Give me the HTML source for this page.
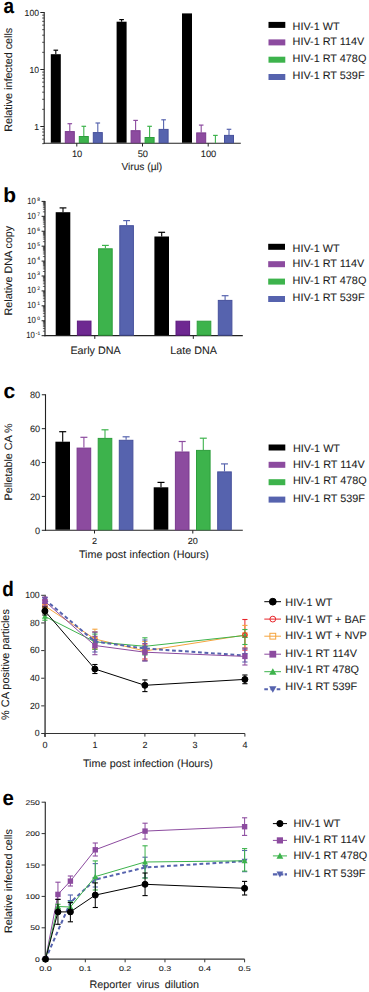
<!DOCTYPE html>
<html><head><meta charset="utf-8"><style>
html,body{margin:0;padding:0;background:#fff;}
body{width:369px;height:992px;overflow:hidden;}
svg{display:block;font-family:"Liberation Sans",sans-serif;text-rendering:geometricPrecision;}
text{stroke:#222;stroke-width:0.08px;paint-order:stroke;}
</style></head><body>
<svg width="369" height="992" viewBox="0 0 369 992">
<rect width="369" height="992" fill="#fff"/>
<text x="3.60" y="12.90" font-size="21" text-anchor="start" font-weight="bold" fill="#000" textLength="10.51" lengthAdjust="spacingAndGlyphs" >a</text>
<line x1="44.20" y1="12.00" x2="44.20" y2="143.80" stroke="#222" stroke-width="1.1" />
<line x1="43.70" y1="143.30" x2="240.80" y2="143.30" stroke="#222" stroke-width="1.1" />
<line x1="40.30" y1="126.50" x2="44.20" y2="126.50" stroke="#222" stroke-width="1" />
<text x="39.00" y="129.82" font-size="8.8" text-anchor="end" font-weight="normal" fill="#1c1c1c" textLength="4.80" lengthAdjust="spacingAndGlyphs" >1</text>
<line x1="40.30" y1="69.50" x2="44.20" y2="69.50" stroke="#222" stroke-width="1" />
<text x="39.00" y="72.82" font-size="8.8" text-anchor="end" font-weight="normal" fill="#1c1c1c" textLength="9.59" lengthAdjust="spacingAndGlyphs" >10</text>
<line x1="40.30" y1="12.50" x2="44.20" y2="12.50" stroke="#222" stroke-width="1" />
<text x="39.00" y="15.82" font-size="8.8" text-anchor="end" font-weight="normal" fill="#1c1c1c" textLength="14.39" lengthAdjust="spacingAndGlyphs" >100</text>
<line x1="42.20" y1="143.66" x2="44.20" y2="143.66" stroke="#222" stroke-width="0.8" />
<line x1="42.20" y1="139.15" x2="44.20" y2="139.15" stroke="#222" stroke-width="0.8" />
<line x1="42.20" y1="135.33" x2="44.20" y2="135.33" stroke="#222" stroke-width="0.8" />
<line x1="42.20" y1="132.02" x2="44.20" y2="132.02" stroke="#222" stroke-width="0.8" />
<line x1="42.20" y1="129.11" x2="44.20" y2="129.11" stroke="#222" stroke-width="0.8" />
<line x1="42.20" y1="109.34" x2="44.20" y2="109.34" stroke="#222" stroke-width="0.8" />
<line x1="42.20" y1="99.30" x2="44.20" y2="99.30" stroke="#222" stroke-width="0.8" />
<line x1="42.20" y1="92.18" x2="44.20" y2="92.18" stroke="#222" stroke-width="0.8" />
<line x1="42.20" y1="86.66" x2="44.20" y2="86.66" stroke="#222" stroke-width="0.8" />
<line x1="42.20" y1="82.15" x2="44.20" y2="82.15" stroke="#222" stroke-width="0.8" />
<line x1="42.20" y1="78.33" x2="44.20" y2="78.33" stroke="#222" stroke-width="0.8" />
<line x1="42.20" y1="75.02" x2="44.20" y2="75.02" stroke="#222" stroke-width="0.8" />
<line x1="42.20" y1="72.11" x2="44.20" y2="72.11" stroke="#222" stroke-width="0.8" />
<line x1="42.20" y1="52.34" x2="44.20" y2="52.34" stroke="#222" stroke-width="0.8" />
<line x1="42.20" y1="42.30" x2="44.20" y2="42.30" stroke="#222" stroke-width="0.8" />
<line x1="42.20" y1="35.18" x2="44.20" y2="35.18" stroke="#222" stroke-width="0.8" />
<line x1="42.20" y1="29.66" x2="44.20" y2="29.66" stroke="#222" stroke-width="0.8" />
<line x1="42.20" y1="25.15" x2="44.20" y2="25.15" stroke="#222" stroke-width="0.8" />
<line x1="42.20" y1="21.33" x2="44.20" y2="21.33" stroke="#222" stroke-width="0.8" />
<line x1="42.20" y1="18.02" x2="44.20" y2="18.02" stroke="#222" stroke-width="0.8" />
<line x1="42.20" y1="15.11" x2="44.20" y2="15.11" stroke="#222" stroke-width="0.8" />
<line x1="76.80" y1="143.30" x2="76.80" y2="146.50" stroke="#222" stroke-width="1" />
<text x="77.10" y="156.70" font-size="9.3" text-anchor="middle" font-weight="normal" fill="#1c1c1c" >10</text>
<line x1="142.50" y1="143.30" x2="142.50" y2="146.50" stroke="#222" stroke-width="1" />
<text x="142.80" y="156.70" font-size="9.3" text-anchor="middle" font-weight="normal" fill="#1c1c1c" >50</text>
<line x1="208.20" y1="143.30" x2="208.20" y2="146.50" stroke="#222" stroke-width="1" />
<text x="208.50" y="156.70" font-size="9.3" text-anchor="middle" font-weight="normal" fill="#1c1c1c" >100</text>
<text x="141.80" y="169.80" font-size="10.2" text-anchor="middle" font-weight="normal" fill="#1c1c1c" >Virus (µl)</text>
<text transform="translate(12.10,79.80) rotate(-90)" font-size="10.75" text-anchor="middle" fill="#1c1c1c">Relative infected cells</text>
<line x1="55.80" y1="54.20" x2="55.80" y2="50.20" stroke="#000" stroke-width="1.1" />
<line x1="53.50" y1="50.20" x2="58.10" y2="50.20" stroke="#000" stroke-width="1.2" />
<rect x="50.80" y="54.20" width="10.00" height="88.55" fill="#000"/>
<line x1="69.80" y1="131.10" x2="69.80" y2="123.70" stroke="#8c4b9f" stroke-width="1.1" />
<line x1="67.50" y1="123.70" x2="72.10" y2="123.70" stroke="#8c4b9f" stroke-width="1.2" />
<rect x="65.30" y="131.60" width="9.00" height="11.15" fill="#8c4b9f" stroke="#7a3a8e" stroke-width="1"/>
<line x1="83.80" y1="136.00" x2="83.80" y2="126.30" stroke="#3db34c" stroke-width="1.1" />
<line x1="81.50" y1="126.30" x2="86.10" y2="126.30" stroke="#3db34c" stroke-width="1.2" />
<rect x="79.30" y="136.50" width="9.00" height="6.25" fill="#3db34c" stroke="#2e9e3c" stroke-width="1"/>
<line x1="97.80" y1="132.10" x2="97.80" y2="123.00" stroke="#5663ae" stroke-width="1.1" />
<line x1="95.50" y1="123.00" x2="100.10" y2="123.00" stroke="#5663ae" stroke-width="1.2" />
<rect x="93.30" y="132.60" width="9.00" height="10.15" fill="#5663ae" stroke="#46509c" stroke-width="1"/>
<line x1="121.60" y1="21.70" x2="121.60" y2="19.60" stroke="#000" stroke-width="1.1" />
<line x1="119.30" y1="19.60" x2="123.90" y2="19.60" stroke="#000" stroke-width="1.2" />
<rect x="116.60" y="21.70" width="10.00" height="121.05" fill="#000"/>
<line x1="135.60" y1="130.20" x2="135.60" y2="120.40" stroke="#8c4b9f" stroke-width="1.1" />
<line x1="133.30" y1="120.40" x2="137.90" y2="120.40" stroke="#8c4b9f" stroke-width="1.2" />
<rect x="131.10" y="130.70" width="9.00" height="12.05" fill="#8c4b9f" stroke="#7a3a8e" stroke-width="1"/>
<line x1="149.60" y1="137.00" x2="149.60" y2="126.30" stroke="#3db34c" stroke-width="1.1" />
<line x1="147.30" y1="126.30" x2="151.90" y2="126.30" stroke="#3db34c" stroke-width="1.2" />
<rect x="145.10" y="137.50" width="9.00" height="5.25" fill="#3db34c" stroke="#2e9e3c" stroke-width="1"/>
<line x1="163.60" y1="128.90" x2="163.60" y2="119.80" stroke="#5663ae" stroke-width="1.1" />
<line x1="161.30" y1="119.80" x2="165.90" y2="119.80" stroke="#5663ae" stroke-width="1.2" />
<rect x="159.10" y="129.40" width="9.00" height="13.35" fill="#5663ae" stroke="#46509c" stroke-width="1"/>
<rect x="182.00" y="13.40" width="10.00" height="129.35" fill="#000"/>
<line x1="201.20" y1="132.40" x2="201.20" y2="125.10" stroke="#8c4b9f" stroke-width="1.1" />
<line x1="198.90" y1="125.10" x2="203.50" y2="125.10" stroke="#8c4b9f" stroke-width="1.2" />
<rect x="196.70" y="132.90" width="9.00" height="9.85" fill="#8c4b9f" stroke="#7a3a8e" stroke-width="1"/>
<line x1="215.40" y1="143.00" x2="215.40" y2="135.40" stroke="#3db34c" stroke-width="1.1" />
<line x1="213.10" y1="135.40" x2="217.70" y2="135.40" stroke="#3db34c" stroke-width="1.2" />
<rect x="210.90" y="143.50" width="9.00" height="-0.75" fill="#3db34c" stroke="#2e9e3c" stroke-width="1"/>
<line x1="229.00" y1="134.90" x2="229.00" y2="129.30" stroke="#5663ae" stroke-width="1.1" />
<line x1="226.70" y1="129.30" x2="231.30" y2="129.30" stroke="#5663ae" stroke-width="1.2" />
<rect x="224.50" y="135.40" width="9.00" height="7.35" fill="#5663ae" stroke="#46509c" stroke-width="1"/>
<rect x="268.50" y="21.90" width="16.80" height="6.00" fill="#000"/>
<text x="292.60" y="29.80" font-size="10.85" text-anchor="start" font-weight="normal" fill="#1c1c1c" >HIV-1 WT</text>
<rect x="268.50" y="39.40" width="16.80" height="6.00" fill="#8c4b9f"/>
<text x="292.60" y="45.45" font-size="10.85" text-anchor="start" font-weight="normal" fill="#1c1c1c" >HIV-1 RT 114V</text>
<rect x="268.50" y="56.70" width="16.80" height="6.00" fill="#3db34c"/>
<text x="292.60" y="61.70" font-size="10.85" text-anchor="start" font-weight="normal" fill="#1c1c1c" >HIV-1 RT 478Q</text>
<rect x="268.50" y="74.00" width="16.80" height="6.00" fill="#5663ae"/>
<text x="292.60" y="79.30" font-size="10.85" text-anchor="start" font-weight="normal" fill="#1c1c1c" >HIV-1 RT 539F</text>
<text x="3.30" y="202.00" font-size="20.3" text-anchor="start" font-weight="bold" fill="#000" textLength="12.77" lengthAdjust="spacingAndGlyphs" >b</text>
<line x1="45.00" y1="200.90" x2="45.00" y2="336.18" stroke="#222" stroke-width="1.2" />
<line x1="44.50" y1="335.68" x2="242.80" y2="335.68" stroke="#222" stroke-width="1.2" />
<line x1="41.60" y1="335.68" x2="45.00" y2="335.68" stroke="#222" stroke-width="1" />
<text x="34.80" y="338.18" font-size="9.0" text-anchor="end" font-weight="normal" fill="#1c1c1c" textLength="8.61" lengthAdjust="spacingAndGlyphs" >10</text>
<text x="35.80" y="335.08" font-size="4.9" text-anchor="start" font-weight="normal" fill="#1c1c1c" >-1</text>
<line x1="42.90" y1="331.19" x2="45.00" y2="331.19" stroke="#222" stroke-width="0.7" />
<line x1="42.90" y1="328.56" x2="45.00" y2="328.56" stroke="#222" stroke-width="0.7" />
<line x1="42.90" y1="326.70" x2="45.00" y2="326.70" stroke="#222" stroke-width="0.7" />
<line x1="42.90" y1="325.25" x2="45.00" y2="325.25" stroke="#222" stroke-width="0.7" />
<line x1="42.90" y1="324.07" x2="45.00" y2="324.07" stroke="#222" stroke-width="0.7" />
<line x1="42.90" y1="323.07" x2="45.00" y2="323.07" stroke="#222" stroke-width="0.7" />
<line x1="42.90" y1="322.21" x2="45.00" y2="322.21" stroke="#222" stroke-width="0.7" />
<line x1="42.90" y1="321.44" x2="45.00" y2="321.44" stroke="#222" stroke-width="0.7" />
<line x1="41.60" y1="320.76" x2="45.00" y2="320.76" stroke="#222" stroke-width="1" />
<text x="35.80" y="323.26" font-size="9.0" text-anchor="end" font-weight="normal" fill="#1c1c1c" textLength="8.61" lengthAdjust="spacingAndGlyphs" >10</text>
<text x="37.30" y="320.16" font-size="4.9" text-anchor="start" font-weight="normal" fill="#1c1c1c" >0</text>
<line x1="42.90" y1="316.27" x2="45.00" y2="316.27" stroke="#222" stroke-width="0.7" />
<line x1="42.90" y1="313.64" x2="45.00" y2="313.64" stroke="#222" stroke-width="0.7" />
<line x1="42.90" y1="311.78" x2="45.00" y2="311.78" stroke="#222" stroke-width="0.7" />
<line x1="42.90" y1="310.33" x2="45.00" y2="310.33" stroke="#222" stroke-width="0.7" />
<line x1="42.90" y1="309.15" x2="45.00" y2="309.15" stroke="#222" stroke-width="0.7" />
<line x1="42.90" y1="308.15" x2="45.00" y2="308.15" stroke="#222" stroke-width="0.7" />
<line x1="42.90" y1="307.29" x2="45.00" y2="307.29" stroke="#222" stroke-width="0.7" />
<line x1="42.90" y1="306.52" x2="45.00" y2="306.52" stroke="#222" stroke-width="0.7" />
<line x1="41.60" y1="305.84" x2="45.00" y2="305.84" stroke="#222" stroke-width="1" />
<text x="35.80" y="308.34" font-size="9.0" text-anchor="end" font-weight="normal" fill="#1c1c1c" textLength="8.61" lengthAdjust="spacingAndGlyphs" >10</text>
<text x="37.30" y="305.24" font-size="4.9" text-anchor="start" font-weight="normal" fill="#1c1c1c" >1</text>
<line x1="42.90" y1="301.35" x2="45.00" y2="301.35" stroke="#222" stroke-width="0.7" />
<line x1="42.90" y1="298.72" x2="45.00" y2="298.72" stroke="#222" stroke-width="0.7" />
<line x1="42.90" y1="296.86" x2="45.00" y2="296.86" stroke="#222" stroke-width="0.7" />
<line x1="42.90" y1="295.41" x2="45.00" y2="295.41" stroke="#222" stroke-width="0.7" />
<line x1="42.90" y1="294.23" x2="45.00" y2="294.23" stroke="#222" stroke-width="0.7" />
<line x1="42.90" y1="293.23" x2="45.00" y2="293.23" stroke="#222" stroke-width="0.7" />
<line x1="42.90" y1="292.37" x2="45.00" y2="292.37" stroke="#222" stroke-width="0.7" />
<line x1="42.90" y1="291.60" x2="45.00" y2="291.60" stroke="#222" stroke-width="0.7" />
<line x1="41.60" y1="290.92" x2="45.00" y2="290.92" stroke="#222" stroke-width="1" />
<text x="35.80" y="293.42" font-size="9.0" text-anchor="end" font-weight="normal" fill="#1c1c1c" textLength="8.61" lengthAdjust="spacingAndGlyphs" >10</text>
<text x="37.30" y="290.32" font-size="4.9" text-anchor="start" font-weight="normal" fill="#1c1c1c" >2</text>
<line x1="42.90" y1="286.43" x2="45.00" y2="286.43" stroke="#222" stroke-width="0.7" />
<line x1="42.90" y1="283.80" x2="45.00" y2="283.80" stroke="#222" stroke-width="0.7" />
<line x1="42.90" y1="281.94" x2="45.00" y2="281.94" stroke="#222" stroke-width="0.7" />
<line x1="42.90" y1="280.49" x2="45.00" y2="280.49" stroke="#222" stroke-width="0.7" />
<line x1="42.90" y1="279.31" x2="45.00" y2="279.31" stroke="#222" stroke-width="0.7" />
<line x1="42.90" y1="278.31" x2="45.00" y2="278.31" stroke="#222" stroke-width="0.7" />
<line x1="42.90" y1="277.45" x2="45.00" y2="277.45" stroke="#222" stroke-width="0.7" />
<line x1="42.90" y1="276.68" x2="45.00" y2="276.68" stroke="#222" stroke-width="0.7" />
<line x1="41.60" y1="276.00" x2="45.00" y2="276.00" stroke="#222" stroke-width="1" />
<text x="35.80" y="278.50" font-size="9.0" text-anchor="end" font-weight="normal" fill="#1c1c1c" textLength="8.61" lengthAdjust="spacingAndGlyphs" >10</text>
<text x="37.30" y="275.40" font-size="4.9" text-anchor="start" font-weight="normal" fill="#1c1c1c" >3</text>
<line x1="42.90" y1="271.51" x2="45.00" y2="271.51" stroke="#222" stroke-width="0.7" />
<line x1="42.90" y1="268.88" x2="45.00" y2="268.88" stroke="#222" stroke-width="0.7" />
<line x1="42.90" y1="267.02" x2="45.00" y2="267.02" stroke="#222" stroke-width="0.7" />
<line x1="42.90" y1="265.57" x2="45.00" y2="265.57" stroke="#222" stroke-width="0.7" />
<line x1="42.90" y1="264.39" x2="45.00" y2="264.39" stroke="#222" stroke-width="0.7" />
<line x1="42.90" y1="263.39" x2="45.00" y2="263.39" stroke="#222" stroke-width="0.7" />
<line x1="42.90" y1="262.53" x2="45.00" y2="262.53" stroke="#222" stroke-width="0.7" />
<line x1="42.90" y1="261.76" x2="45.00" y2="261.76" stroke="#222" stroke-width="0.7" />
<line x1="41.60" y1="261.08" x2="45.00" y2="261.08" stroke="#222" stroke-width="1" />
<text x="35.80" y="263.58" font-size="9.0" text-anchor="end" font-weight="normal" fill="#1c1c1c" textLength="8.61" lengthAdjust="spacingAndGlyphs" >10</text>
<text x="37.30" y="260.48" font-size="4.9" text-anchor="start" font-weight="normal" fill="#1c1c1c" >4</text>
<line x1="42.90" y1="256.59" x2="45.00" y2="256.59" stroke="#222" stroke-width="0.7" />
<line x1="42.90" y1="253.96" x2="45.00" y2="253.96" stroke="#222" stroke-width="0.7" />
<line x1="42.90" y1="252.10" x2="45.00" y2="252.10" stroke="#222" stroke-width="0.7" />
<line x1="42.90" y1="250.65" x2="45.00" y2="250.65" stroke="#222" stroke-width="0.7" />
<line x1="42.90" y1="249.47" x2="45.00" y2="249.47" stroke="#222" stroke-width="0.7" />
<line x1="42.90" y1="248.47" x2="45.00" y2="248.47" stroke="#222" stroke-width="0.7" />
<line x1="42.90" y1="247.61" x2="45.00" y2="247.61" stroke="#222" stroke-width="0.7" />
<line x1="42.90" y1="246.84" x2="45.00" y2="246.84" stroke="#222" stroke-width="0.7" />
<line x1="41.60" y1="246.16" x2="45.00" y2="246.16" stroke="#222" stroke-width="1" />
<text x="35.80" y="248.66" font-size="9.0" text-anchor="end" font-weight="normal" fill="#1c1c1c" textLength="8.61" lengthAdjust="spacingAndGlyphs" >10</text>
<text x="37.30" y="245.56" font-size="4.9" text-anchor="start" font-weight="normal" fill="#1c1c1c" >5</text>
<line x1="42.90" y1="241.67" x2="45.00" y2="241.67" stroke="#222" stroke-width="0.7" />
<line x1="42.90" y1="239.04" x2="45.00" y2="239.04" stroke="#222" stroke-width="0.7" />
<line x1="42.90" y1="237.18" x2="45.00" y2="237.18" stroke="#222" stroke-width="0.7" />
<line x1="42.90" y1="235.73" x2="45.00" y2="235.73" stroke="#222" stroke-width="0.7" />
<line x1="42.90" y1="234.55" x2="45.00" y2="234.55" stroke="#222" stroke-width="0.7" />
<line x1="42.90" y1="233.55" x2="45.00" y2="233.55" stroke="#222" stroke-width="0.7" />
<line x1="42.90" y1="232.69" x2="45.00" y2="232.69" stroke="#222" stroke-width="0.7" />
<line x1="42.90" y1="231.92" x2="45.00" y2="231.92" stroke="#222" stroke-width="0.7" />
<line x1="41.60" y1="231.24" x2="45.00" y2="231.24" stroke="#222" stroke-width="1" />
<text x="35.80" y="233.74" font-size="9.0" text-anchor="end" font-weight="normal" fill="#1c1c1c" textLength="8.61" lengthAdjust="spacingAndGlyphs" >10</text>
<text x="37.30" y="230.64" font-size="4.9" text-anchor="start" font-weight="normal" fill="#1c1c1c" >6</text>
<line x1="42.90" y1="226.75" x2="45.00" y2="226.75" stroke="#222" stroke-width="0.7" />
<line x1="42.90" y1="224.12" x2="45.00" y2="224.12" stroke="#222" stroke-width="0.7" />
<line x1="42.90" y1="222.26" x2="45.00" y2="222.26" stroke="#222" stroke-width="0.7" />
<line x1="42.90" y1="220.81" x2="45.00" y2="220.81" stroke="#222" stroke-width="0.7" />
<line x1="42.90" y1="219.63" x2="45.00" y2="219.63" stroke="#222" stroke-width="0.7" />
<line x1="42.90" y1="218.63" x2="45.00" y2="218.63" stroke="#222" stroke-width="0.7" />
<line x1="42.90" y1="217.77" x2="45.00" y2="217.77" stroke="#222" stroke-width="0.7" />
<line x1="42.90" y1="217.00" x2="45.00" y2="217.00" stroke="#222" stroke-width="0.7" />
<line x1="41.60" y1="216.32" x2="45.00" y2="216.32" stroke="#222" stroke-width="1" />
<text x="35.80" y="218.82" font-size="9.0" text-anchor="end" font-weight="normal" fill="#1c1c1c" textLength="8.61" lengthAdjust="spacingAndGlyphs" >10</text>
<text x="37.30" y="215.72" font-size="4.9" text-anchor="start" font-weight="normal" fill="#1c1c1c" >7</text>
<line x1="42.90" y1="211.83" x2="45.00" y2="211.83" stroke="#222" stroke-width="0.7" />
<line x1="42.90" y1="209.20" x2="45.00" y2="209.20" stroke="#222" stroke-width="0.7" />
<line x1="42.90" y1="207.34" x2="45.00" y2="207.34" stroke="#222" stroke-width="0.7" />
<line x1="42.90" y1="205.89" x2="45.00" y2="205.89" stroke="#222" stroke-width="0.7" />
<line x1="42.90" y1="204.71" x2="45.00" y2="204.71" stroke="#222" stroke-width="0.7" />
<line x1="42.90" y1="203.71" x2="45.00" y2="203.71" stroke="#222" stroke-width="0.7" />
<line x1="42.90" y1="202.85" x2="45.00" y2="202.85" stroke="#222" stroke-width="0.7" />
<line x1="42.90" y1="202.08" x2="45.00" y2="202.08" stroke="#222" stroke-width="0.7" />
<line x1="41.60" y1="201.40" x2="45.00" y2="201.40" stroke="#222" stroke-width="1" />
<text x="35.80" y="203.90" font-size="9.0" text-anchor="end" font-weight="normal" fill="#1c1c1c" textLength="8.61" lengthAdjust="spacingAndGlyphs" >10</text>
<text x="37.30" y="200.80" font-size="4.9" text-anchor="start" font-weight="normal" fill="#1c1c1c" >8</text>
<line x1="94.80" y1="335.68" x2="94.80" y2="338.88" stroke="#222" stroke-width="1" />
<line x1="193.30" y1="335.68" x2="193.30" y2="338.88" stroke="#222" stroke-width="1" />
<text x="95.50" y="354.00" font-size="10.75" text-anchor="middle" font-weight="normal" fill="#1c1c1c" >Early DNA</text>
<text x="193.60" y="354.00" font-size="10.75" text-anchor="middle" font-weight="normal" fill="#1c1c1c" >Late DNA</text>
<text transform="translate(11.90,270.60) rotate(-90)" font-size="10.75" text-anchor="middle" fill="#1c1c1c">Relative DNA copy</text>
<line x1="63.00" y1="212.20" x2="63.00" y2="207.90" stroke="#000" stroke-width="1.1" />
<line x1="59.60" y1="207.90" x2="66.40" y2="207.90" stroke="#000" stroke-width="1.2" />
<rect x="55.70" y="212.20" width="14.60" height="122.93" fill="#000"/>
<rect x="77.40" y="321.10" width="13.60" height="14.03" fill="#6e2891" stroke="#5e1a80" stroke-width="1"/>
<line x1="105.40" y1="248.30" x2="105.40" y2="245.40" stroke="#3db34c" stroke-width="1.1" />
<line x1="102.00" y1="245.40" x2="108.80" y2="245.40" stroke="#3db34c" stroke-width="1.2" />
<rect x="98.60" y="248.80" width="13.60" height="86.33" fill="#3db34c" stroke="#2e9e3c" stroke-width="1"/>
<line x1="126.60" y1="225.20" x2="126.60" y2="220.60" stroke="#5663ae" stroke-width="1.1" />
<line x1="123.20" y1="220.60" x2="130.00" y2="220.60" stroke="#5663ae" stroke-width="1.2" />
<rect x="119.80" y="225.70" width="13.60" height="109.43" fill="#5663ae" stroke="#46509c" stroke-width="1"/>
<line x1="161.70" y1="236.50" x2="161.70" y2="232.30" stroke="#000" stroke-width="1.1" />
<line x1="158.30" y1="232.30" x2="165.10" y2="232.30" stroke="#000" stroke-width="1.2" />
<rect x="154.40" y="236.50" width="14.60" height="98.63" fill="#000"/>
<rect x="176.00" y="321.20" width="13.60" height="13.93" fill="#6e2891" stroke="#5e1a80" stroke-width="1"/>
<rect x="197.20" y="321.20" width="13.60" height="13.93" fill="#3db34c" stroke="#2e9e3c" stroke-width="1"/>
<line x1="225.10" y1="299.90" x2="225.10" y2="295.70" stroke="#5663ae" stroke-width="1.1" />
<line x1="221.70" y1="295.70" x2="228.50" y2="295.70" stroke="#5663ae" stroke-width="1.2" />
<rect x="218.30" y="300.40" width="13.60" height="34.73" fill="#5663ae" stroke="#46509c" stroke-width="1"/>
<rect x="268.20" y="243.80" width="16.80" height="6.00" fill="#000"/>
<text x="292.60" y="251.70" font-size="10.85" text-anchor="start" font-weight="normal" fill="#1c1c1c" >HIV-1 WT</text>
<rect x="268.20" y="261.20" width="16.80" height="6.00" fill="#8c4b9f"/>
<text x="292.60" y="267.25" font-size="10.85" text-anchor="start" font-weight="normal" fill="#1c1c1c" >HIV-1 RT 114V</text>
<rect x="268.20" y="278.60" width="16.80" height="6.00" fill="#3db34c"/>
<text x="292.60" y="283.60" font-size="10.85" text-anchor="start" font-weight="normal" fill="#1c1c1c" >HIV-1 RT 478Q</text>
<rect x="268.20" y="296.00" width="16.80" height="6.00" fill="#5663ae"/>
<text x="292.60" y="301.30" font-size="10.85" text-anchor="start" font-weight="normal" fill="#1c1c1c" >HIV-1 RT 539F</text>
<text x="3.50" y="398.40" font-size="21" text-anchor="start" font-weight="bold" fill="#000" >c</text>
<line x1="45.50" y1="394.28" x2="45.50" y2="530.80" stroke="#222" stroke-width="1.1" />
<line x1="45.00" y1="530.30" x2="242.80" y2="530.30" stroke="#222" stroke-width="1.1" />
<line x1="41.80" y1="530.30" x2="45.50" y2="530.30" stroke="#222" stroke-width="1" />
<text x="40.20" y="533.66" font-size="9.2" text-anchor="end" font-weight="normal" fill="#1c1c1c" >0</text>
<line x1="41.80" y1="496.42" x2="45.50" y2="496.42" stroke="#222" stroke-width="1" />
<text x="40.20" y="499.78" font-size="9.2" text-anchor="end" font-weight="normal" fill="#1c1c1c" >20</text>
<line x1="41.80" y1="462.54" x2="45.50" y2="462.54" stroke="#222" stroke-width="1" />
<text x="40.20" y="465.90" font-size="9.2" text-anchor="end" font-weight="normal" fill="#1c1c1c" >40</text>
<line x1="41.80" y1="428.66" x2="45.50" y2="428.66" stroke="#222" stroke-width="1" />
<text x="40.20" y="432.02" font-size="9.2" text-anchor="end" font-weight="normal" fill="#1c1c1c" >60</text>
<line x1="41.80" y1="394.78" x2="45.50" y2="394.78" stroke="#222" stroke-width="1" />
<text x="40.20" y="398.14" font-size="9.2" text-anchor="end" font-weight="normal" fill="#1c1c1c" >80</text>
<line x1="94.50" y1="530.30" x2="94.50" y2="533.50" stroke="#222" stroke-width="1" />
<text x="94.50" y="543.60" font-size="8.9" text-anchor="middle" font-weight="normal" fill="#1c1c1c" textLength="5.05" lengthAdjust="spacingAndGlyphs" >2</text>
<line x1="192.80" y1="530.30" x2="192.80" y2="533.50" stroke="#222" stroke-width="1" />
<text x="192.80" y="543.60" font-size="8.9" text-anchor="middle" font-weight="normal" fill="#1c1c1c" textLength="10.10" lengthAdjust="spacingAndGlyphs" >20</text>
<text x="143.90" y="557.60" font-size="10.75" text-anchor="middle" font-weight="normal" fill="#1c1c1c" word-spacing="0.45">Time post infection (Hours)</text>
<text transform="translate(12.20,461.90) rotate(-90)" font-size="10.75" text-anchor="middle" fill="#1c1c1c">Pelletable CA %</text>
<line x1="62.70" y1="441.70" x2="62.70" y2="431.70" stroke="#000" stroke-width="1.1" />
<line x1="59.20" y1="431.70" x2="66.20" y2="431.70" stroke="#000" stroke-width="1.2" />
<rect x="55.40" y="441.70" width="14.60" height="88.05" fill="#000"/>
<line x1="83.90" y1="447.60" x2="83.90" y2="437.30" stroke="#8c4b9f" stroke-width="1.1" />
<line x1="80.40" y1="437.30" x2="87.40" y2="437.30" stroke="#8c4b9f" stroke-width="1.2" />
<rect x="77.10" y="448.10" width="13.60" height="81.65" fill="#8c4b9f" stroke="#7a3a8e" stroke-width="1"/>
<line x1="105.00" y1="437.90" x2="105.00" y2="429.80" stroke="#3db34c" stroke-width="1.1" />
<line x1="101.50" y1="429.80" x2="108.50" y2="429.80" stroke="#3db34c" stroke-width="1.2" />
<rect x="98.20" y="438.40" width="13.60" height="91.35" fill="#3db34c" stroke="#2e9e3c" stroke-width="1"/>
<line x1="126.10" y1="439.80" x2="126.10" y2="436.80" stroke="#5663ae" stroke-width="1.1" />
<line x1="122.60" y1="436.80" x2="129.60" y2="436.80" stroke="#5663ae" stroke-width="1.2" />
<rect x="119.30" y="440.30" width="13.60" height="89.45" fill="#5663ae" stroke="#46509c" stroke-width="1"/>
<line x1="161.00" y1="487.30" x2="161.00" y2="482.40" stroke="#000" stroke-width="1.1" />
<line x1="157.50" y1="482.40" x2="164.50" y2="482.40" stroke="#000" stroke-width="1.2" />
<rect x="153.70" y="487.30" width="14.60" height="42.45" fill="#000"/>
<line x1="182.20" y1="451.50" x2="182.20" y2="441.50" stroke="#8c4b9f" stroke-width="1.1" />
<line x1="178.70" y1="441.50" x2="185.70" y2="441.50" stroke="#8c4b9f" stroke-width="1.2" />
<rect x="175.40" y="452.00" width="13.60" height="77.75" fill="#8c4b9f" stroke="#7a3a8e" stroke-width="1"/>
<line x1="203.30" y1="449.90" x2="203.30" y2="438.20" stroke="#3db34c" stroke-width="1.1" />
<line x1="199.80" y1="438.20" x2="206.80" y2="438.20" stroke="#3db34c" stroke-width="1.2" />
<rect x="196.50" y="450.40" width="13.60" height="79.35" fill="#3db34c" stroke="#2e9e3c" stroke-width="1"/>
<line x1="224.50" y1="471.40" x2="224.50" y2="463.90" stroke="#5663ae" stroke-width="1.1" />
<line x1="221.00" y1="463.90" x2="228.00" y2="463.90" stroke="#5663ae" stroke-width="1.2" />
<rect x="217.70" y="471.90" width="13.60" height="57.85" fill="#5663ae" stroke="#46509c" stroke-width="1"/>
<rect x="268.60" y="444.50" width="16.70" height="6.00" fill="#000"/>
<text x="293.00" y="452.40" font-size="10.85" text-anchor="start" font-weight="normal" fill="#1c1c1c" >HIV-1 WT</text>
<rect x="268.60" y="461.80" width="16.70" height="6.00" fill="#8c4b9f"/>
<text x="293.00" y="467.85" font-size="10.85" text-anchor="start" font-weight="normal" fill="#1c1c1c" >HIV-1 RT 114V</text>
<rect x="268.60" y="479.20" width="16.70" height="6.00" fill="#3db34c"/>
<text x="293.00" y="484.20" font-size="10.85" text-anchor="start" font-weight="normal" fill="#1c1c1c" >HIV-1 RT 478Q</text>
<rect x="268.60" y="496.60" width="16.70" height="6.00" fill="#5663ae"/>
<text x="293.00" y="501.90" font-size="10.85" text-anchor="start" font-weight="normal" fill="#1c1c1c" >HIV-1 RT 539F</text>
<text x="2.20" y="595.60" font-size="21" text-anchor="start" font-weight="bold" fill="#000" textLength="11.54" lengthAdjust="spacingAndGlyphs" >d</text>
<line x1="45.10" y1="594.80" x2="45.10" y2="737.00" stroke="#666" stroke-width="1.8" />
<line x1="44.00" y1="733.50" x2="244.90" y2="733.50" stroke="#333" stroke-width="1.2" />
<line x1="41.20" y1="733.50" x2="44.50" y2="733.50" stroke="#333" stroke-width="1" />
<text x="39.70" y="736.29" font-size="9.0" text-anchor="end" font-weight="normal" fill="#1c1c1c" textLength="4.86" lengthAdjust="spacingAndGlyphs" >0</text>
<line x1="41.20" y1="705.86" x2="44.50" y2="705.86" stroke="#333" stroke-width="1" />
<text x="39.70" y="708.65" font-size="9.0" text-anchor="end" font-weight="normal" fill="#1c1c1c" textLength="9.71" lengthAdjust="spacingAndGlyphs" >20</text>
<line x1="41.20" y1="678.22" x2="44.50" y2="678.22" stroke="#333" stroke-width="1" />
<text x="39.70" y="681.01" font-size="9.0" text-anchor="end" font-weight="normal" fill="#1c1c1c" textLength="9.71" lengthAdjust="spacingAndGlyphs" >40</text>
<line x1="41.20" y1="650.58" x2="44.50" y2="650.58" stroke="#333" stroke-width="1" />
<text x="39.70" y="653.37" font-size="9.0" text-anchor="end" font-weight="normal" fill="#1c1c1c" textLength="9.71" lengthAdjust="spacingAndGlyphs" >60</text>
<line x1="41.20" y1="622.94" x2="44.50" y2="622.94" stroke="#333" stroke-width="1" />
<text x="39.70" y="625.73" font-size="9.0" text-anchor="end" font-weight="normal" fill="#1c1c1c" textLength="9.71" lengthAdjust="spacingAndGlyphs" >80</text>
<line x1="41.20" y1="595.30" x2="44.50" y2="595.30" stroke="#333" stroke-width="1" />
<text x="39.70" y="598.09" font-size="9.0" text-anchor="end" font-weight="normal" fill="#1c1c1c" textLength="14.57" lengthAdjust="spacingAndGlyphs" >100</text>
<line x1="44.90" y1="733.50" x2="44.90" y2="736.60" stroke="#333" stroke-width="1" />
<text x="44.90" y="748.10" font-size="9.0" text-anchor="middle" font-weight="normal" fill="#1c1c1c" >0</text>
<line x1="94.90" y1="733.50" x2="94.90" y2="736.60" stroke="#333" stroke-width="1" />
<text x="94.90" y="748.10" font-size="9.0" text-anchor="middle" font-weight="normal" fill="#1c1c1c" >1</text>
<line x1="144.90" y1="733.50" x2="144.90" y2="736.60" stroke="#333" stroke-width="1" />
<text x="144.90" y="748.10" font-size="9.0" text-anchor="middle" font-weight="normal" fill="#1c1c1c" >2</text>
<line x1="194.90" y1="733.50" x2="194.90" y2="736.60" stroke="#333" stroke-width="1" />
<text x="194.90" y="748.10" font-size="9.0" text-anchor="middle" font-weight="normal" fill="#1c1c1c" >3</text>
<line x1="244.90" y1="733.50" x2="244.90" y2="736.60" stroke="#333" stroke-width="1" />
<text x="244.90" y="748.10" font-size="9.0" text-anchor="middle" font-weight="normal" fill="#1c1c1c" >4</text>
<text x="147.90" y="767.20" font-size="10.75" text-anchor="middle" font-weight="normal" fill="#1c1c1c" word-spacing="0.45">Time post infection (Hours)</text>
<text transform="translate(9.40,664.50) rotate(-90)" font-size="10.9" text-anchor="middle" fill="#1c1c1c">% CA positive particles</text>
<line x1="44.90" y1="600.00" x2="44.90" y2="611.00" stroke="#e8262b" stroke-width="1.0" />
<line x1="42.30" y1="600.00" x2="47.50" y2="600.00" stroke="#e8262b" stroke-width="1.1" />
<line x1="42.30" y1="611.00" x2="47.50" y2="611.00" stroke="#e8262b" stroke-width="1.1" />
<line x1="94.90" y1="632.00" x2="94.90" y2="648.00" stroke="#e8262b" stroke-width="1.0" />
<line x1="92.30" y1="632.00" x2="97.50" y2="632.00" stroke="#e8262b" stroke-width="1.1" />
<line x1="92.30" y1="648.00" x2="97.50" y2="648.00" stroke="#e8262b" stroke-width="1.1" />
<line x1="144.90" y1="645.00" x2="144.90" y2="659.00" stroke="#e8262b" stroke-width="1.0" />
<line x1="142.30" y1="645.00" x2="147.50" y2="645.00" stroke="#e8262b" stroke-width="1.1" />
<line x1="142.30" y1="659.00" x2="147.50" y2="659.00" stroke="#e8262b" stroke-width="1.1" />
<line x1="244.90" y1="619.50" x2="244.90" y2="650.10" stroke="#e8262b" stroke-width="1.0" />
<line x1="242.30" y1="619.50" x2="247.50" y2="619.50" stroke="#e8262b" stroke-width="1.1" />
<line x1="242.30" y1="650.10" x2="247.50" y2="650.10" stroke="#e8262b" stroke-width="1.1" />
<circle cx="44.90" cy="606.00" r="2.20" fill="none" stroke="#e8262b" stroke-width="1.0"/>
<circle cx="94.90" cy="639.00" r="2.20" fill="none" stroke="#e8262b" stroke-width="1.0"/>
<circle cx="144.90" cy="651.00" r="2.20" fill="none" stroke="#e8262b" stroke-width="1.0"/>
<circle cx="244.90" cy="635.00" r="2.20" fill="none" stroke="#e8262b" stroke-width="1.0"/>
<polyline points="44.90,606.00 94.90,639.00 144.90,651.00 244.90,635.00" fill="none" stroke="#f5a43e" stroke-width="1.0" stroke-linejoin="round"/>
<line x1="44.90" y1="600.00" x2="44.90" y2="612.00" stroke="#f5a43e" stroke-width="1.0" />
<line x1="42.30" y1="600.00" x2="47.50" y2="600.00" stroke="#f5a43e" stroke-width="1.1" />
<line x1="42.30" y1="612.00" x2="47.50" y2="612.00" stroke="#f5a43e" stroke-width="1.1" />
<line x1="94.90" y1="629.20" x2="94.90" y2="649.30" stroke="#f5a43e" stroke-width="1.0" />
<line x1="92.30" y1="629.20" x2="97.50" y2="629.20" stroke="#f5a43e" stroke-width="1.1" />
<line x1="92.30" y1="649.30" x2="97.50" y2="649.30" stroke="#f5a43e" stroke-width="1.1" />
<line x1="144.90" y1="641.50" x2="144.90" y2="660.50" stroke="#f5a43e" stroke-width="1.0" />
<line x1="142.30" y1="641.50" x2="147.50" y2="641.50" stroke="#f5a43e" stroke-width="1.1" />
<line x1="142.30" y1="660.50" x2="147.50" y2="660.50" stroke="#f5a43e" stroke-width="1.1" />
<line x1="244.90" y1="625.40" x2="244.90" y2="648.00" stroke="#f5a43e" stroke-width="1.0" />
<line x1="242.30" y1="625.40" x2="247.50" y2="625.40" stroke="#f5a43e" stroke-width="1.1" />
<line x1="242.30" y1="648.00" x2="247.50" y2="648.00" stroke="#f5a43e" stroke-width="1.1" />
<rect x="42.70" y="603.80" width="4.40" height="4.40" fill="none" stroke="#f5a43e" stroke-width="1"/>
<rect x="92.70" y="636.80" width="4.40" height="4.40" fill="none" stroke="#f5a43e" stroke-width="1"/>
<rect x="142.70" y="648.80" width="4.40" height="4.40" fill="none" stroke="#f5a43e" stroke-width="1"/>
<rect x="242.70" y="632.80" width="4.40" height="4.40" fill="none" stroke="#f5a43e" stroke-width="1"/>
<polyline points="44.90,616.40 94.90,641.80 144.90,646.30 244.90,635.50" fill="none" stroke="#3db34c" stroke-width="1.0" stroke-linejoin="round"/>
<line x1="44.90" y1="612.50" x2="44.90" y2="620.20" stroke="#3db34c" stroke-width="1.0" />
<line x1="42.30" y1="612.50" x2="47.50" y2="612.50" stroke="#3db34c" stroke-width="1.1" />
<line x1="42.30" y1="620.20" x2="47.50" y2="620.20" stroke="#3db34c" stroke-width="1.1" />
<line x1="94.90" y1="634.10" x2="94.90" y2="649.30" stroke="#3db34c" stroke-width="1.0" />
<line x1="92.30" y1="634.10" x2="97.50" y2="634.10" stroke="#3db34c" stroke-width="1.1" />
<line x1="92.30" y1="649.30" x2="97.50" y2="649.30" stroke="#3db34c" stroke-width="1.1" />
<line x1="144.90" y1="637.80" x2="144.90" y2="655.00" stroke="#3db34c" stroke-width="1.0" />
<line x1="142.30" y1="637.80" x2="147.50" y2="637.80" stroke="#3db34c" stroke-width="1.1" />
<line x1="142.30" y1="655.00" x2="147.50" y2="655.00" stroke="#3db34c" stroke-width="1.1" />
<line x1="244.90" y1="629.50" x2="244.90" y2="644.50" stroke="#3db34c" stroke-width="1.0" />
<line x1="242.30" y1="629.50" x2="247.50" y2="629.50" stroke="#3db34c" stroke-width="1.1" />
<line x1="242.30" y1="644.50" x2="247.50" y2="644.50" stroke="#3db34c" stroke-width="1.1" />
<polygon points="44.90,613.47 47.90,618.83 41.90,618.83" fill="#3db34c"/>
<polygon points="94.90,638.87 97.90,644.23 91.90,644.23" fill="#3db34c"/>
<polygon points="144.90,643.37 147.90,648.73 141.90,648.73" fill="#3db34c"/>
<polygon points="244.90,632.57 247.90,637.93 241.90,637.93" fill="#3db34c"/>
<polyline points="44.90,599.50 94.90,641.50 144.90,648.50 244.90,655.50" fill="none" stroke="#5663ae" stroke-width="2.0" stroke-dasharray="3.8,2.7" stroke-linejoin="round"/>
<line x1="44.90" y1="597.50" x2="44.90" y2="603.00" stroke="#5663ae" stroke-width="1.0" />
<line x1="42.30" y1="597.50" x2="47.50" y2="597.50" stroke="#5663ae" stroke-width="1.1" />
<line x1="42.30" y1="603.00" x2="47.50" y2="603.00" stroke="#5663ae" stroke-width="1.1" />
<line x1="94.90" y1="632.10" x2="94.90" y2="652.00" stroke="#5663ae" stroke-width="1.0" />
<line x1="92.30" y1="632.10" x2="97.50" y2="632.10" stroke="#5663ae" stroke-width="1.1" />
<line x1="92.30" y1="652.00" x2="97.50" y2="652.00" stroke="#5663ae" stroke-width="1.1" />
<line x1="144.90" y1="640.00" x2="144.90" y2="660.90" stroke="#5663ae" stroke-width="1.0" />
<line x1="142.30" y1="640.00" x2="147.50" y2="640.00" stroke="#5663ae" stroke-width="1.1" />
<line x1="142.30" y1="660.90" x2="147.50" y2="660.90" stroke="#5663ae" stroke-width="1.1" />
<line x1="244.90" y1="649.00" x2="244.90" y2="662.00" stroke="#5663ae" stroke-width="1.0" />
<line x1="242.30" y1="649.00" x2="247.50" y2="649.00" stroke="#5663ae" stroke-width="1.1" />
<line x1="242.30" y1="662.00" x2="247.50" y2="662.00" stroke="#5663ae" stroke-width="1.1" />
<polygon points="44.90,602.43 47.90,597.07 41.90,597.07" fill="#5663ae"/>
<polygon points="94.90,644.43 97.90,639.07 91.90,639.07" fill="#5663ae"/>
<polygon points="144.90,651.43 147.90,646.07 141.90,646.07" fill="#5663ae"/>
<polygon points="244.90,658.43 247.90,653.07 241.90,653.07" fill="#5663ae"/>
<polyline points="44.90,601.30 94.90,645.50 144.90,652.20 244.90,656.40" fill="none" stroke="#8c4b9f" stroke-width="1.0" stroke-linejoin="round"/>
<line x1="44.90" y1="597.00" x2="44.90" y2="606.00" stroke="#8c4b9f" stroke-width="1.0" />
<line x1="42.30" y1="597.00" x2="47.50" y2="597.00" stroke="#8c4b9f" stroke-width="1.1" />
<line x1="42.30" y1="606.00" x2="47.50" y2="606.00" stroke="#8c4b9f" stroke-width="1.1" />
<line x1="94.90" y1="636.30" x2="94.90" y2="654.70" stroke="#8c4b9f" stroke-width="1.0" />
<line x1="92.30" y1="636.30" x2="97.50" y2="636.30" stroke="#8c4b9f" stroke-width="1.1" />
<line x1="92.30" y1="654.70" x2="97.50" y2="654.70" stroke="#8c4b9f" stroke-width="1.1" />
<line x1="144.90" y1="643.50" x2="144.90" y2="660.90" stroke="#8c4b9f" stroke-width="1.0" />
<line x1="142.30" y1="643.50" x2="147.50" y2="643.50" stroke="#8c4b9f" stroke-width="1.1" />
<line x1="142.30" y1="660.90" x2="147.50" y2="660.90" stroke="#8c4b9f" stroke-width="1.1" />
<line x1="244.90" y1="648.00" x2="244.90" y2="665.00" stroke="#8c4b9f" stroke-width="1.0" />
<line x1="242.30" y1="648.00" x2="247.50" y2="648.00" stroke="#8c4b9f" stroke-width="1.1" />
<line x1="242.30" y1="665.00" x2="247.50" y2="665.00" stroke="#8c4b9f" stroke-width="1.1" />
<rect x="42.20" y="598.60" width="5.40" height="5.40" fill="#8c4b9f"/>
<rect x="92.20" y="642.80" width="5.40" height="5.40" fill="#8c4b9f"/>
<rect x="142.20" y="649.50" width="5.40" height="5.40" fill="#8c4b9f"/>
<rect x="242.20" y="653.70" width="5.40" height="5.40" fill="#8c4b9f"/>
<polyline points="44.90,611.00 94.90,669.00 144.90,685.30 244.90,679.40" fill="none" stroke="#000" stroke-width="1.0" stroke-linejoin="round"/>
<line x1="44.90" y1="607.00" x2="44.90" y2="615.00" stroke="#000" stroke-width="1.0" />
<line x1="42.30" y1="607.00" x2="47.50" y2="607.00" stroke="#000" stroke-width="1.1" />
<line x1="42.30" y1="615.00" x2="47.50" y2="615.00" stroke="#000" stroke-width="1.1" />
<line x1="94.90" y1="664.50" x2="94.90" y2="673.50" stroke="#000" stroke-width="1.0" />
<line x1="92.30" y1="664.50" x2="97.50" y2="664.50" stroke="#000" stroke-width="1.1" />
<line x1="92.30" y1="673.50" x2="97.50" y2="673.50" stroke="#000" stroke-width="1.1" />
<line x1="144.90" y1="679.90" x2="144.90" y2="691.60" stroke="#000" stroke-width="1.0" />
<line x1="142.30" y1="679.90" x2="147.50" y2="679.90" stroke="#000" stroke-width="1.1" />
<line x1="142.30" y1="691.60" x2="147.50" y2="691.60" stroke="#000" stroke-width="1.1" />
<line x1="244.90" y1="675.00" x2="244.90" y2="683.70" stroke="#000" stroke-width="1.0" />
<line x1="242.30" y1="675.00" x2="247.50" y2="675.00" stroke="#000" stroke-width="1.1" />
<line x1="242.30" y1="683.70" x2="247.50" y2="683.70" stroke="#000" stroke-width="1.1" />
<circle cx="44.90" cy="611.00" r="3.00" fill="#000" stroke="#000" stroke-width="1"/>
<circle cx="94.90" cy="669.00" r="3.00" fill="#000" stroke="#000" stroke-width="1"/>
<circle cx="144.90" cy="685.30" r="3.00" fill="#000" stroke="#000" stroke-width="1"/>
<circle cx="244.90" cy="679.40" r="3.00" fill="#000" stroke="#000" stroke-width="1"/>
<circle cx="244.90" cy="634.90" r="2.20" fill="none" stroke="#e8262b" stroke-width="1.0"/>
<line x1="264.3" y1="601.7" x2="281.0" y2="601.7" stroke="#000" stroke-width="1.0"/>
<circle cx="272.80" cy="601.70" r="3.40" fill="#000" stroke="#000" stroke-width="1"/>
<text x="285.30" y="606.30" font-size="10.85" text-anchor="start" font-weight="normal" fill="#1c1c1c" >HIV-1 WT</text>
<line x1="264.3" y1="619.1" x2="281.0" y2="619.1" stroke="#e8262b" stroke-width="1.0"/>
<circle cx="272.80" cy="619.10" r="2.90" fill="none" stroke="#e8262b" stroke-width="1.0"/>
<text x="285.30" y="622.70" font-size="10.85" text-anchor="start" font-weight="normal" fill="#1c1c1c" >HIV-1 WT + BAF</text>
<line x1="264.3" y1="636.2" x2="281.0" y2="636.2" stroke="#f5a43e" stroke-width="1.0"/>
<rect x="269.90" y="633.30" width="5.80" height="5.80" fill="none" stroke="#f5a43e" stroke-width="1"/>
<text x="285.30" y="639.20" font-size="10.85" text-anchor="start" font-weight="normal" fill="#1c1c1c" >HIV-1 WT + NVP</text>
<line x1="264.3" y1="654.2" x2="281.0" y2="654.2" stroke="#8c4b9f" stroke-width="1.0"/>
<rect x="269.40" y="650.80" width="6.80" height="6.80" fill="#8c4b9f"/>
<text x="285.30" y="656.70" font-size="10.85" text-anchor="start" font-weight="normal" fill="#1c1c1c" >HIV-1 RT 114V</text>
<line x1="264.3" y1="671.7" x2="281.0" y2="671.7" stroke="#3db34c" stroke-width="1.0"/>
<polygon points="272.80,668.14 276.50,674.76 269.10,674.76" fill="#3db34c"/>
<text x="285.30" y="672.60" font-size="10.85" text-anchor="start" font-weight="normal" fill="#1c1c1c" >HIV-1 RT 478Q</text>
<line x1="264.3" y1="689.3" x2="281.0" y2="689.3" stroke="#5663ae" stroke-width="2.1" stroke-dasharray="3.6,2.6"/>
<polygon points="272.80,692.86 276.50,686.24 269.10,686.24" fill="#5663ae"/>
<text x="285.30" y="690.10" font-size="10.85" text-anchor="start" font-weight="normal" fill="#1c1c1c" >HIV-1 RT 539F</text>
<text x="2.50" y="804.60" font-size="21" text-anchor="start" font-weight="bold" fill="#000" textLength="11.33" lengthAdjust="spacingAndGlyphs" >e</text>
<line x1="45.30" y1="801.70" x2="45.30" y2="959.70" stroke="#333" stroke-width="1.2" />
<line x1="44.80" y1="959.20" x2="244.60" y2="959.20" stroke="#333" stroke-width="1.2" />
<line x1="41.60" y1="959.20" x2="45.00" y2="959.20" stroke="#333" stroke-width="1" />
<text x="39.80" y="961.74" font-size="6.9" text-anchor="end" font-weight="normal" fill="#1c1c1c" textLength="4.80" lengthAdjust="spacingAndGlyphs" >0</text>
<line x1="41.60" y1="927.80" x2="45.00" y2="927.80" stroke="#333" stroke-width="1" />
<text x="39.80" y="930.34" font-size="6.9" text-anchor="end" font-weight="normal" fill="#1c1c1c" textLength="9.59" lengthAdjust="spacingAndGlyphs" >50</text>
<line x1="41.60" y1="896.40" x2="45.00" y2="896.40" stroke="#333" stroke-width="1" />
<text x="39.80" y="898.94" font-size="6.9" text-anchor="end" font-weight="normal" fill="#1c1c1c" textLength="14.39" lengthAdjust="spacingAndGlyphs" >100</text>
<line x1="41.60" y1="865.00" x2="45.00" y2="865.00" stroke="#333" stroke-width="1" />
<text x="39.80" y="867.54" font-size="6.9" text-anchor="end" font-weight="normal" fill="#1c1c1c" textLength="14.39" lengthAdjust="spacingAndGlyphs" >150</text>
<line x1="41.60" y1="833.60" x2="45.00" y2="833.60" stroke="#333" stroke-width="1" />
<text x="39.80" y="836.14" font-size="6.9" text-anchor="end" font-weight="normal" fill="#1c1c1c" textLength="14.39" lengthAdjust="spacingAndGlyphs" >200</text>
<line x1="41.60" y1="802.20" x2="45.00" y2="802.20" stroke="#333" stroke-width="1" />
<text x="39.80" y="804.74" font-size="6.9" text-anchor="end" font-weight="normal" fill="#1c1c1c" textLength="14.39" lengthAdjust="spacingAndGlyphs" >250</text>
<line x1="45.50" y1="959.20" x2="45.50" y2="962.30" stroke="#333" stroke-width="1" />
<text x="45.50" y="970.80" font-size="6.9" text-anchor="middle" font-weight="normal" fill="#1c1c1c" textLength="12.47" lengthAdjust="spacingAndGlyphs" >0.0</text>
<line x1="85.32" y1="959.20" x2="85.32" y2="962.30" stroke="#333" stroke-width="1" />
<text x="85.32" y="970.80" font-size="6.9" text-anchor="middle" font-weight="normal" fill="#1c1c1c" textLength="12.47" lengthAdjust="spacingAndGlyphs" >0.1</text>
<line x1="125.14" y1="959.20" x2="125.14" y2="962.30" stroke="#333" stroke-width="1" />
<text x="125.14" y="970.80" font-size="6.9" text-anchor="middle" font-weight="normal" fill="#1c1c1c" textLength="12.47" lengthAdjust="spacingAndGlyphs" >0.2</text>
<line x1="164.96" y1="959.20" x2="164.96" y2="962.30" stroke="#333" stroke-width="1" />
<text x="164.96" y="970.80" font-size="6.9" text-anchor="middle" font-weight="normal" fill="#1c1c1c" textLength="12.47" lengthAdjust="spacingAndGlyphs" >0.3</text>
<line x1="204.78" y1="959.20" x2="204.78" y2="962.30" stroke="#333" stroke-width="1" />
<text x="204.78" y="970.80" font-size="6.9" text-anchor="middle" font-weight="normal" fill="#1c1c1c" textLength="12.47" lengthAdjust="spacingAndGlyphs" >0.4</text>
<line x1="244.60" y1="959.20" x2="244.60" y2="962.30" stroke="#333" stroke-width="1" />
<text x="244.60" y="970.80" font-size="6.9" text-anchor="middle" font-weight="normal" fill="#1c1c1c" textLength="12.47" lengthAdjust="spacingAndGlyphs" >0.5</text>
<text x="144.20" y="987.60" font-size="10.75" text-anchor="middle" font-weight="normal" fill="#1c1c1c" word-spacing="2.4">Reporter virus dilution</text>
<text transform="translate(12.00,881.10) rotate(-90)" font-size="10.75" text-anchor="middle" fill="#1c1c1c">Relative infected cells</text>
<polyline points="45.50,959.20 57.94,894.40 70.39,881.10 95.28,849.80 145.05,831.10 244.60,826.70" fill="none" stroke="#8c4b9f" stroke-width="1.0" stroke-linejoin="round"/>
<line x1="57.94" y1="882.20" x2="57.94" y2="899.30" stroke="#8c4b9f" stroke-width="1.0" />
<line x1="55.34" y1="882.20" x2="60.54" y2="882.20" stroke="#8c4b9f" stroke-width="1.1" />
<line x1="55.34" y1="899.30" x2="60.54" y2="899.30" stroke="#8c4b9f" stroke-width="1.1" />
<line x1="70.39" y1="876.00" x2="70.39" y2="886.00" stroke="#8c4b9f" stroke-width="1.0" />
<line x1="67.79" y1="876.00" x2="72.99" y2="876.00" stroke="#8c4b9f" stroke-width="1.1" />
<line x1="67.79" y1="886.00" x2="72.99" y2="886.00" stroke="#8c4b9f" stroke-width="1.1" />
<line x1="95.28" y1="843.00" x2="95.28" y2="856.00" stroke="#8c4b9f" stroke-width="1.0" />
<line x1="92.68" y1="843.00" x2="97.88" y2="843.00" stroke="#8c4b9f" stroke-width="1.1" />
<line x1="92.68" y1="856.00" x2="97.88" y2="856.00" stroke="#8c4b9f" stroke-width="1.1" />
<line x1="145.05" y1="823.20" x2="145.05" y2="839.10" stroke="#8c4b9f" stroke-width="1.0" />
<line x1="142.45" y1="823.20" x2="147.65" y2="823.20" stroke="#8c4b9f" stroke-width="1.1" />
<line x1="142.45" y1="839.10" x2="147.65" y2="839.10" stroke="#8c4b9f" stroke-width="1.1" />
<line x1="244.60" y1="817.80" x2="244.60" y2="835.40" stroke="#8c4b9f" stroke-width="1.0" />
<line x1="242.00" y1="817.80" x2="247.20" y2="817.80" stroke="#8c4b9f" stroke-width="1.1" />
<line x1="242.00" y1="835.40" x2="247.20" y2="835.40" stroke="#8c4b9f" stroke-width="1.1" />
<rect x="42.80" y="956.50" width="5.40" height="5.40" fill="#8c4b9f"/>
<rect x="55.24" y="891.70" width="5.40" height="5.40" fill="#8c4b9f"/>
<rect x="67.69" y="878.40" width="5.40" height="5.40" fill="#8c4b9f"/>
<rect x="92.58" y="847.10" width="5.40" height="5.40" fill="#8c4b9f"/>
<rect x="142.35" y="828.40" width="5.40" height="5.40" fill="#8c4b9f"/>
<rect x="241.90" y="824.00" width="5.40" height="5.40" fill="#8c4b9f"/>
<polyline points="45.50,959.20 70.39,902.50 95.28,879.60 145.05,867.50 244.60,861.20" fill="none" stroke="#5663ae" stroke-width="2.0" stroke-dasharray="3.8,2.7" stroke-linejoin="round"/>
<line x1="70.39" y1="895.00" x2="70.39" y2="909.00" stroke="#5663ae" stroke-width="1.0" />
<line x1="67.79" y1="895.00" x2="72.99" y2="895.00" stroke="#5663ae" stroke-width="1.1" />
<line x1="67.79" y1="909.00" x2="72.99" y2="909.00" stroke="#5663ae" stroke-width="1.1" />
<line x1="95.28" y1="863.60" x2="95.28" y2="887.00" stroke="#5663ae" stroke-width="1.0" />
<line x1="92.68" y1="863.60" x2="97.88" y2="863.60" stroke="#5663ae" stroke-width="1.1" />
<line x1="92.68" y1="887.00" x2="97.88" y2="887.00" stroke="#5663ae" stroke-width="1.1" />
<line x1="145.05" y1="857.20" x2="145.05" y2="877.80" stroke="#5663ae" stroke-width="1.0" />
<line x1="142.45" y1="857.20" x2="147.65" y2="857.20" stroke="#5663ae" stroke-width="1.1" />
<line x1="142.45" y1="877.80" x2="147.65" y2="877.80" stroke="#5663ae" stroke-width="1.1" />
<line x1="244.60" y1="850.50" x2="244.60" y2="871.70" stroke="#5663ae" stroke-width="1.0" />
<line x1="242.00" y1="850.50" x2="247.20" y2="850.50" stroke="#5663ae" stroke-width="1.1" />
<line x1="242.00" y1="871.70" x2="247.20" y2="871.70" stroke="#5663ae" stroke-width="1.1" />
<polygon points="45.50,962.13 48.50,956.77 42.50,956.77" fill="#5663ae"/>
<polygon points="70.39,905.43 73.39,900.07 67.39,900.07" fill="#5663ae"/>
<polygon points="95.28,882.53 98.28,877.17 92.28,877.17" fill="#5663ae"/>
<polygon points="145.05,870.43 148.05,865.07 142.05,865.07" fill="#5663ae"/>
<polygon points="244.60,864.13 247.60,858.77 241.60,858.77" fill="#5663ae"/>
<polyline points="45.50,959.20 57.94,906.50 70.39,907.00 95.28,876.60 145.05,862.00 244.60,860.80" fill="none" stroke="#3db34c" stroke-width="1.0" stroke-linejoin="round"/>
<line x1="57.94" y1="904.30" x2="57.94" y2="909.00" stroke="#3db34c" stroke-width="1.0" />
<line x1="55.34" y1="904.30" x2="60.54" y2="904.30" stroke="#3db34c" stroke-width="1.1" />
<line x1="55.34" y1="909.00" x2="60.54" y2="909.00" stroke="#3db34c" stroke-width="1.1" />
<line x1="70.39" y1="902.00" x2="70.39" y2="912.00" stroke="#3db34c" stroke-width="1.0" />
<line x1="67.79" y1="902.00" x2="72.99" y2="902.00" stroke="#3db34c" stroke-width="1.1" />
<line x1="67.79" y1="912.00" x2="72.99" y2="912.00" stroke="#3db34c" stroke-width="1.1" />
<line x1="95.28" y1="860.90" x2="95.28" y2="890.00" stroke="#3db34c" stroke-width="1.0" />
<line x1="92.68" y1="860.90" x2="97.88" y2="860.90" stroke="#3db34c" stroke-width="1.1" />
<line x1="92.68" y1="890.00" x2="97.88" y2="890.00" stroke="#3db34c" stroke-width="1.1" />
<line x1="145.05" y1="845.80" x2="145.05" y2="878.10" stroke="#3db34c" stroke-width="1.0" />
<line x1="142.45" y1="845.80" x2="147.65" y2="845.80" stroke="#3db34c" stroke-width="1.1" />
<line x1="142.45" y1="878.10" x2="147.65" y2="878.10" stroke="#3db34c" stroke-width="1.1" />
<line x1="244.60" y1="848.60" x2="244.60" y2="871.10" stroke="#3db34c" stroke-width="1.0" />
<line x1="242.00" y1="848.60" x2="247.20" y2="848.60" stroke="#3db34c" stroke-width="1.1" />
<line x1="242.00" y1="871.10" x2="247.20" y2="871.10" stroke="#3db34c" stroke-width="1.1" />
<polygon points="45.50,956.27 48.50,961.63 42.50,961.63" fill="#3db34c"/>
<polygon points="57.94,903.57 60.94,908.93 54.94,908.93" fill="#3db34c"/>
<polygon points="70.39,904.07 73.39,909.43 67.39,909.43" fill="#3db34c"/>
<polygon points="95.28,873.67 98.28,879.03 92.28,879.03" fill="#3db34c"/>
<polygon points="145.05,859.07 148.05,864.43 142.05,864.43" fill="#3db34c"/>
<polygon points="244.60,857.87 247.60,863.23 241.60,863.23" fill="#3db34c"/>
<polyline points="45.50,959.20 57.94,911.90 70.39,911.90 95.28,895.10 145.05,884.30 244.60,888.30" fill="none" stroke="#000" stroke-width="1.0" stroke-linejoin="round"/>
<line x1="57.94" y1="899.40" x2="57.94" y2="924.30" stroke="#000" stroke-width="1.0" />
<line x1="55.34" y1="899.40" x2="60.54" y2="899.40" stroke="#000" stroke-width="1.1" />
<line x1="55.34" y1="924.30" x2="60.54" y2="924.30" stroke="#000" stroke-width="1.1" />
<line x1="70.39" y1="902.60" x2="70.39" y2="921.80" stroke="#000" stroke-width="1.0" />
<line x1="67.79" y1="902.60" x2="72.99" y2="902.60" stroke="#000" stroke-width="1.1" />
<line x1="67.79" y1="921.80" x2="72.99" y2="921.80" stroke="#000" stroke-width="1.1" />
<line x1="95.28" y1="882.90" x2="95.28" y2="907.50" stroke="#000" stroke-width="1.0" />
<line x1="92.68" y1="882.90" x2="97.88" y2="882.90" stroke="#000" stroke-width="1.1" />
<line x1="92.68" y1="907.50" x2="97.88" y2="907.50" stroke="#000" stroke-width="1.1" />
<line x1="145.05" y1="873.00" x2="145.05" y2="895.60" stroke="#000" stroke-width="1.0" />
<line x1="142.45" y1="873.00" x2="147.65" y2="873.00" stroke="#000" stroke-width="1.1" />
<line x1="142.45" y1="895.60" x2="147.65" y2="895.60" stroke="#000" stroke-width="1.1" />
<line x1="244.60" y1="881.40" x2="244.60" y2="895.00" stroke="#000" stroke-width="1.0" />
<line x1="242.00" y1="881.40" x2="247.20" y2="881.40" stroke="#000" stroke-width="1.1" />
<line x1="242.00" y1="895.00" x2="247.20" y2="895.00" stroke="#000" stroke-width="1.1" />
<circle cx="45.50" cy="959.20" r="3.00" fill="#000" stroke="#000" stroke-width="1"/>
<circle cx="57.94" cy="911.90" r="3.00" fill="#000" stroke="#000" stroke-width="1"/>
<circle cx="70.39" cy="911.90" r="3.00" fill="#000" stroke="#000" stroke-width="1"/>
<circle cx="95.28" cy="895.10" r="3.00" fill="#000" stroke="#000" stroke-width="1"/>
<circle cx="145.05" cy="884.30" r="3.00" fill="#000" stroke="#000" stroke-width="1"/>
<circle cx="244.60" cy="888.30" r="3.00" fill="#000" stroke="#000" stroke-width="1"/>
<line x1="272.9" y1="823.6" x2="287.0" y2="823.6" stroke="#000" stroke-width="1.0"/>
<circle cx="279.90" cy="823.60" r="3.10" fill="#000" stroke="#000" stroke-width="1"/>
<text x="293.40" y="827.20" font-size="10.85" text-anchor="start" font-weight="normal" fill="#1c1c1c" >HIV-1 WT</text>
<line x1="272.9" y1="840.4" x2="287.0" y2="840.4" stroke="#8c4b9f" stroke-width="1.0"/>
<rect x="276.80" y="837.30" width="6.20" height="6.20" fill="#8c4b9f"/>
<text x="293.40" y="842.90" font-size="10.85" text-anchor="start" font-weight="normal" fill="#1c1c1c" >HIV-1 RT 114V</text>
<line x1="272.9" y1="855.9" x2="287.0" y2="855.9" stroke="#3db34c" stroke-width="1.0"/>
<polygon points="279.90,852.61 283.30,858.69 276.50,858.69" fill="#3db34c"/>
<text x="293.40" y="859.20" font-size="10.85" text-anchor="start" font-weight="normal" fill="#1c1c1c" >HIV-1 RT 478Q</text>
<line x1="272.9" y1="874.3" x2="287.0" y2="874.3" stroke="#5663ae" stroke-width="2.3" stroke-dasharray="4.5,1.4"/>
<polygon points="279.90,877.59 283.30,871.51 276.50,871.51" fill="#5663ae"/>
<text x="293.40" y="876.50" font-size="10.85" text-anchor="start" font-weight="normal" fill="#1c1c1c" >HIV-1 RT 539F</text>
</svg>
</body></html>
